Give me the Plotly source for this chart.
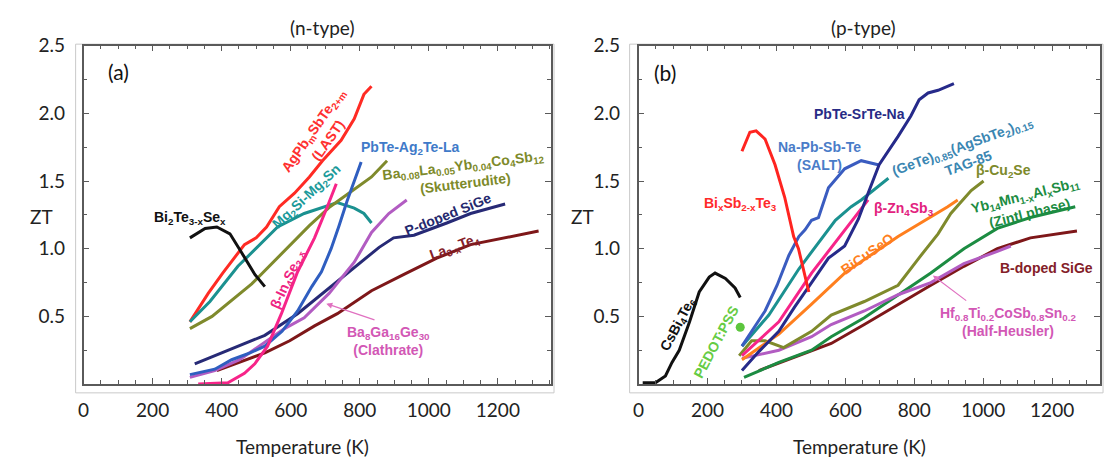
import plotly.graph_objects as go

# ---------------- n-type materials, panel (a) ----------------
T_last = [308, 361, 403, 466, 500, 530, 567, 611, 654, 692, 746, 784, 812, 834]
ZT_last = [0.46, 0.67, 0.82, 1.03, 1.08, 1.16, 1.31, 1.41, 1.53, 1.65, 1.80, 1.96, 2.14, 2.20]

T_mg2si = [308, 366, 447, 511, 562, 639, 698, 735, 784, 812, 834]
ZT_mg2si = [0.46, 0.61, 0.87, 1.03, 1.16, 1.26, 1.31, 1.34, 1.30, 1.26, 1.19]

T_skutt = [308, 372, 487, 553, 620, 654, 714, 784, 834, 879]
ZT_skutt = [0.41, 0.50, 0.74, 0.91, 1.08, 1.17, 1.31, 1.44, 1.53, 1.65]

T_bi2te3 = [308, 352, 386, 424, 458, 496, 525]
ZT_bi2te3 = [1.08, 1.15, 1.16, 1.11, 0.97, 0.81, 0.72]

T_in4se3 = [332, 418, 466, 496, 533, 573, 620, 669, 706, 732]
ZT_in4se3 = [0.00, 0.01, 0.08, 0.15, 0.28, 0.52, 0.83, 1.08, 1.31, 1.48]

T_pbte_la = [308, 380, 429, 482, 525, 575, 620, 661, 689, 717, 740, 763, 804]
ZT_pbte_la = [0.07, 0.11, 0.18, 0.23, 0.28, 0.39, 0.54, 0.72, 0.83, 1.00, 1.17, 1.35, 1.64]

T_sige_n = [322, 429, 525, 620, 717, 804, 856, 898, 957, 1052, 1121, 1221]
ZT_sige_n = [0.15, 0.26, 0.36, 0.52, 0.72, 0.90, 1.01, 1.08, 1.10, 1.19, 1.26, 1.33]

T_clath = [308, 380, 452, 525, 582, 639, 711, 784, 834, 884, 936]
ZT_clath = [0.05, 0.10, 0.18, 0.31, 0.41, 0.49, 0.67, 0.90, 1.12, 1.26, 1.36]

T_la3te4 = [386, 452, 525, 597, 669, 735, 834, 928, 1023, 1121, 1216, 1318]
ZT_la3te4 = [0.10, 0.16, 0.23, 0.32, 0.43, 0.52, 0.69, 0.81, 0.93, 1.03, 1.08, 1.13]

# ---------------- p-type materials, panel (b) ----------------
T_csbi4te6 = [12, 49, 78, 97, 118, 148, 176, 205, 222, 252, 280, 295]
ZT_csbi4te6 = [0.01, 0.01, 0.06, 0.16, 0.25, 0.46, 0.68, 0.79, 0.82, 0.78, 0.71, 0.64]

T_pedot = [295]
ZT_pedot = [0.42]

T_bisbte = [300, 323, 341, 367, 396, 424, 450, 464, 494]
ZT_bisbte = [1.72, 1.86, 1.87, 1.81, 1.62, 1.38, 1.09, 1.00, 0.68]

T_salt = [300, 334, 367, 402, 436, 465, 483, 502, 522, 551, 598, 646, 695]
ZT_salt = [0.28, 0.41, 0.54, 0.73, 0.95, 1.09, 1.14, 1.21, 1.23, 1.45, 1.59, 1.65, 1.62]

T_pbte_sr = [300, 349, 407, 453, 502, 551, 598, 638, 666, 698, 753, 790, 814, 840, 869, 915]
ZT_pbte_sr = [0.10, 0.24, 0.39, 0.57, 0.75, 0.93, 1.02, 1.22, 1.41, 1.62, 1.83, 1.98, 2.10, 2.15, 2.17, 2.22]

T_tag85 = [300, 378, 465, 522, 571, 617, 646, 725]
ZT_tag85 = [0.28, 0.51, 0.85, 1.04, 1.21, 1.31, 1.36, 1.52]

T_zn4sb3 = [300, 407, 502, 598, 666]
ZT_zn4sb3 = [0.21, 0.46, 0.82, 1.14, 1.36]

T_bicuseo = [300, 407, 502, 559, 598, 655, 753, 897, 926]
ZT_bicuseo = [0.18, 0.37, 0.59, 0.73, 0.82, 0.92, 1.09, 1.31, 1.36]

T_cu2se = [292, 328, 367, 421, 502, 559, 655, 753, 810, 869, 906, 965, 1001]
ZT_cu2se = [0.21, 0.32, 0.32, 0.27, 0.39, 0.51, 0.61, 0.73, 0.92, 1.11, 1.26, 1.43, 1.50]

T_hh = [300, 407, 502, 559, 655, 753, 848, 944, 1041, 1080]
ZT_hh = [0.19, 0.25, 0.35, 0.44, 0.54, 0.66, 0.75, 0.89, 0.98, 1.02]

T_yb14 = [306, 407, 502, 559, 655, 753, 848, 944, 1041, 1137, 1267]
ZT_yb14 = [0.05, 0.16, 0.25, 0.35, 0.49, 0.66, 0.82, 1.00, 1.15, 1.23, 1.31]

T_sige_p = [349, 502, 559, 655, 753, 848, 944, 1041, 1137, 1272]
ZT_sige_p = [0.10, 0.25, 0.30, 0.44, 0.59, 0.73, 0.87, 1.00, 1.08, 1.13]

x_tick_vals = [0, 200, 400, 600, 800, 1000, 1200]
y_tick_vals = [0.5, 1.0, 1.5, 2.0, 2.5]
y_tick_text = ["0.5", "1.0", "1.5", "2.0", "2.5"]

W, H = 1110, 463


def px_x(p):
    return p / W


def px_y(p):
    return 1 - p / H


fig = go.Figure()

curves_a = [
    (T_last, ZT_last, "#ff2b24"),
    (T_mg2si, ZT_mg2si, "#1b9190"),
    (T_skutt, ZT_skutt, "#7f8a2c"),
    (T_bi2te3, ZT_bi2te3, "#111111"),
    (T_la3te4, ZT_la3te4, "#7e1719"),
    (T_sige_n, ZT_sige_n, "#272a76"),
    (T_clath, ZT_clath, "#b25cc2"),
    (T_pbte_la, ZT_pbte_la, "#2f5ec0"),
    (T_in4se3, ZT_in4se3, "#f72489"),
]
curves_b = [
    (T_csbi4te6, ZT_csbi4te6, "#111111"),
    (T_sige_p, ZT_sige_p, "#7e1719"),
    (T_yb14, ZT_yb14, "#1c8c42"),
    (T_hh, ZT_hh, "#b25cc2"),
    (T_cu2se, ZT_cu2se, "#7f8a2c"),
    (T_bicuseo, ZT_bicuseo, "#ff7f1e"),
    (T_zn4sb3, ZT_zn4sb3, "#f72489"),
    (T_tag85, ZT_tag85, "#1b9190"),
    (T_salt, ZT_salt, "#3a5cc0"),
    (T_pbte_sr, ZT_pbte_sr, "#262a8a"),
    (T_bisbte, ZT_bisbte, "#ff2420"),
]

for xs, ys, col in curves_a:
    fig.add_trace(go.Scatter(x=xs, y=ys, mode="lines", line=dict(color=col, width=3),
                             xaxis="x", yaxis="y", showlegend=False, hoverinfo="skip"))
for xs, ys, col in curves_b:
    fig.add_trace(go.Scatter(x=xs, y=ys, mode="lines", line=dict(color=col, width=3),
                             xaxis="x2", yaxis="y2", showlegend=False, hoverinfo="skip"))
fig.add_trace(go.Scatter(x=T_pedot, y=ZT_pedot, mode="markers",
                         marker=dict(color="#5cc63e", size=9),
                         xaxis="x2", yaxis="y2", showlegend=False, hoverinfo="skip"))

axis_font = dict(family="Lato, Carlito, Calibri, sans-serif", size=19, color="#222222")
frame = "#5a5a5a"

xcommon = dict(tickvals=x_tick_vals, ticks="inside", ticklen=6,
               tickcolor=frame, showline=True, linecolor=frame, linewidth=1.5,
               mirror="ticks", showgrid=False, zeroline=False, tickfont=axis_font,
               ticklabelstandoff=8,
               minor=dict(dtick=50, ticks="inside", ticklen=4, tickcolor=frame))
ycommon = dict(range=[0, 2.5], tickvals=y_tick_vals, ticktext=y_tick_text,
               ticks="inside", ticklen=6, tickcolor=frame, showline=True,
               linecolor=frame, linewidth=1.5, mirror="ticks", showgrid=False,
               zeroline=False, tickfont=axis_font, ticklabelstandoff=13,
               minor=dict(dtick=0.25, ticks="inside", ticklen=4, tickcolor=frame),
               domain=[px_y(382), px_y(34.5)])

fig.update_layout(
    width=W, height=H, margin=dict(l=0, r=0, t=0, b=0),
    paper_bgcolor="white", plot_bgcolor="white",
    xaxis=dict(domain=[px_x(78), px_x(548)], range=[0, 1354], anchor="y", **xcommon),
    yaxis=dict(anchor="x", **ycommon),
    xaxis2=dict(domain=[px_x(636), px_x(1100)], range=[0, 1339], anchor="y2", **xcommon),
    yaxis2=dict(anchor="x2", **ycommon),
)

# light outer frames around each panel
for x0, x1 in [(70, 551), (627, 1103)]:
    fig.add_shape(type="rect", xref="paper", yref="paper",
                  x0=px_x(x0), x1=px_x(x1), y0=px_y(391), y1=px_y(33),
                  line=dict(color="#c9c9c9", width=1), fillcolor="rgba(0,0,0,0)",
                  layer="below")

calib = "Lato, Carlito, Calibri, sans-serif"
arial = "Liberation Sans, Arial, Helvetica, sans-serif"

# titles and axis labels
for txt, x, y in [("(n-type)", 318, 16), ("(p-type)", 862, 16),
                  ("Temperature (K)", 298, 446), ("Temperature (K)", 858, 446),
                  ("ZT", 36, 210), ("ZT", 580, 210)]:
    fig.add_annotation(text=txt, x=px_x(x), y=px_y(y), xref="paper", yref="paper",
                       showarrow=False, font=dict(family=calib, size=19, color="#222222"),
                       xanchor="center", yanchor="middle")

fig.add_annotation(text="(a)", x=102, y=2.31, xref="x", yref="y", showarrow=False,
                   font=dict(family=calib, size=21, color="#111111"))
fig.add_annotation(text="(b)", x=78, y=2.30, xref="x2", yref="y2", showarrow=False,
                   font=dict(family=calib, size=21, color="#111111"))

labels_a = [
    ("AgPb<sub>m</sub>SbTe<sub>2+m</sub><br>(LAST)", 686, 1.84, -55, "#ff3030"),
    ("Mg<sub>2</sub>Si-Mg<sub>2</sub>Sn", 646, 1.385, -43, "#1b9a9a"),
    ("Bi<sub>2</sub>Te<sub>3-x</sub>Se<sub>x</sub>", 308, 1.23, 0, "#111111"),
    ("PbTe-Ag<sub>2</sub>Te-La", 946, 1.745, 0, "#3f7ac9"),
    ("Ba<sub>0.08</sub>La<sub>0.05</sub>Yb<sub>0.04</sub>Co<sub>4</sub>Sb<sub>12</sub><br>(Skutterudite)",
     1103, 1.55, -7, "#7d8a2a"),
    ("P-doped SiGe", 1057, 1.255, -22, "#25296e"),
    ("La<sub>3-x</sub>Te<sub>4</sub>", 1077, 1.01, -20, "#842028"),
    ("Ba<sub>8</sub>Ga<sub>16</sub>Ge<sub>30</sub><br>(Clathrate)", 884, 0.32, 0, "#d257b5"),
    ("β-In<sub>4</sub>Se<sub>3-δ</sub>", 594, 0.773, -65, "#ee2482"),
]
labels_b = [
    ("PbTe-SrTe-Na", 641, 1.996, 0, "#272b86"),
    ("Na-Pb-Sb-Te<br>(SALT)", 525, 1.687, 0, "#4a7cc8"),
    ("(GeTe)<sub>0.85</sub>(AgSbTe<sub>2</sub>)<sub>0.15</sub><br>TAG-85", 950, 1.70, -20, "#3a86b2"),
    ("β-Cu<sub>2</sub>Se", 1059, 1.572, 0, "#7d8a2a"),
    ("Yb<sub>14</sub>Mn<sub>1-x</sub>Al<sub>x</sub>Sb<sub>11</sub><br>(Zintl phase)", 1128, 1.327, -14, "#1c8c42"),
    ("β-Zn<sub>4</sub>Sb<sub>3</sub>", 770, 1.291, 0, "#e2227e"),
    ("Bi<sub>x</sub>Sb<sub>2-x</sub>Te<sub>3</sub>", 295, 1.327, 0, "#ff2a2a"),
    ("BiCuSeO", 663, 0.96, -35, "#ff7f1e"),
    ("B-doped SiGe", 1183, 0.86, 0, "#842028"),
    ("Hf<sub>0.8</sub>Ti<sub>0.2</sub>CoSb<sub>0.8</sub>Sn<sub>0.2</sub><br>(Half-Heusler)", 1071, 0.457, 0, "#d257b5"),
    ("CsBi<sub>4</sub>Te<sub>6</sub>", 116, 0.442, -62, "#111111"),
    ("PEDOT:PSS", 224, 0.313, -62, "#66cc44"),
]

for labs, xr, yr in [(labels_a, "x", "y"), (labels_b, "x2", "y2")]:
    for txt, x, y, ang, col in labs:
        fig.add_annotation(text="<b>" + txt + "</b>", x=x, y=y, xref=xr, yref=yr,
                           showarrow=False, textangle=ang,
                           font=dict(family=arial, size=14, color=col),
                           xanchor="center", yanchor="middle")

# pointer arrows to the clathrate and half-Heusler curves
fig.add_annotation(x=703, y=0.594, ax=847, ay=0.471, xref="x", yref="y",
                   axref="x", ayref="y", text="", showarrow=True, arrowhead=2,
                   arrowsize=1, arrowwidth=1.2, arrowcolor="#e070c0")
fig.add_annotation(x=854, y=0.802, ax=955, ay=0.608, xref="x2", yref="y2",
                   axref="x2", ayref="y2", text="", showarrow=True, arrowhead=2,
                   arrowsize=1, arrowwidth=1.2, arrowcolor="#e070c0")

fig.write_html("out.html")
